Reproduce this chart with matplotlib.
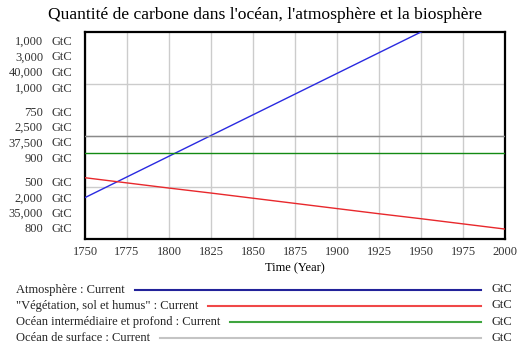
import matplotlib.pyplot as plt
from matplotlib import transforms
from matplotlib.lines import Line2D

plt.rcParams['font.family'] = ['Liberation Serif', 'DejaVu Serif']

# data (GtC)
years = [1750, 1775, 1800, 1825, 1850, 1875, 1900, 1925, 1950, 1975, 2000]
atmosphere = [600, 650, 700, 750, 800, 850, 900, 950, 1000, 1050, 1100]
vegetation = [2296, 2271, 2246, 2222, 2197, 2172, 2147, 2122, 2098, 2073, 2048]
ocean_deep = [37085, 37085, 37085, 37085, 37085, 37085, 37085, 37085, 37085, 37085, 37085]
ocean_surface = [900, 900, 900, 900, 900, 900, 900, 900, 900, 900, 900]

# one scale per series: (bottom, middle, top)
scale_atm = [500, 750, 1000]
scale_veg = [2000, 2500, 3000]
scale_deep = [35000, 37500, 40000]
scale_surf = [800, 900, 1000]

names = ['Atmosphère : Current', '"Végétation, sol et humus" : Current',
         'Océan intermédiaire et profond : Current', 'Océan de surface : Current']
series = [atmosphere, vegetation, ocean_deep, ocean_surface]
scales = [scale_atm, scale_veg, scale_deep, scale_surf]
plot_colors = ['#2a2ae0', '#e8282c', '#138a13', '#8a8a8a']
legend_colors = ['#22229a', '#f04848', '#3fa53f', '#c4c4c4']

fig = plt.figure(figsize=(5.23, 3.46), dpi=100)
ax = fig.add_axes([85/523, 1 - 239/346, 420/523, 207/346])

ax.set_xlim(1750, 2000)
ax.set_xticks(years)
ax.set_ylim(0, 1)
ax.set_yticks([0.25, 0.5, 0.75])
ax.set_yticklabels([])
ax.tick_params(axis='y', length=0)
ax.tick_params(axis='x', length=0, labelsize=9, pad=5, labelcolor='#333333')
ax.grid(True, color='#cccccc', linewidth=1)
for s in ax.spines.values():
    s.set_linewidth(1.6)
ax.set_xlabel('Time (Year)', fontsize=9, labelpad=3)

# each series on its own scale
for vals, sc, c in zip(series, scales, plot_colors):
    tw = ax.twinx()
    tw.set_ylim(sc[0], sc[2])
    tw.plot(years, vals, color=c, linewidth=1)
    tw.axis('off')

# stacked y labels, one row per scale at each level
levels = [2, 1, 0]
fracs = [1.0, 0.5, 0.0]
for lev, f in zip(levels, fracs):
    first = -10 + 66 * (1 - f)
    for i, sc in enumerate(scales):
        dy = first - 15.5 * i
        tr_num = transforms.offset_copy(ax.transAxes, fig=fig, x=-42, y=dy, units='dots')
        tr_unit = transforms.offset_copy(ax.transAxes, fig=fig, x=-33, y=dy, units='dots')
        ax.text(0, f, f'{sc[lev]:,}', transform=tr_num, ha='right', va='center',
                fontsize=9, color='#333333')
        ax.text(0, f, 'GtC', transform=tr_unit, ha='left', va='center',
                fontsize=9, color='#333333')

fig.text(265/523, 1 - 15/346, "Quantité de carbone dans l'océan, l'atmosphère et la biosphère",
         ha='center', va='center', fontsize=12.6)

# legend rows
renderer = fig.canvas.get_renderer()
row_y = [289.5, 305.5, 322, 338]
for name, c, y in zip(names, legend_colors, row_y):
    yf = 1 - y/346
    t = fig.text(16/523, yf, name, ha='left', va='center', fontsize=9, color='#222222')
    x1 = t.get_window_extent(renderer).x1
    fig.add_artist(Line2D([(x1 + 10)/523, 481/523], [yf, yf], color=c, linewidth=1.5,
                          transform=fig.transFigure))
    fig.text(492/523, yf, 'GtC', ha='left', va='center', fontsize=9, color='#222222')

fig.savefig('out.png', dpi=100)
